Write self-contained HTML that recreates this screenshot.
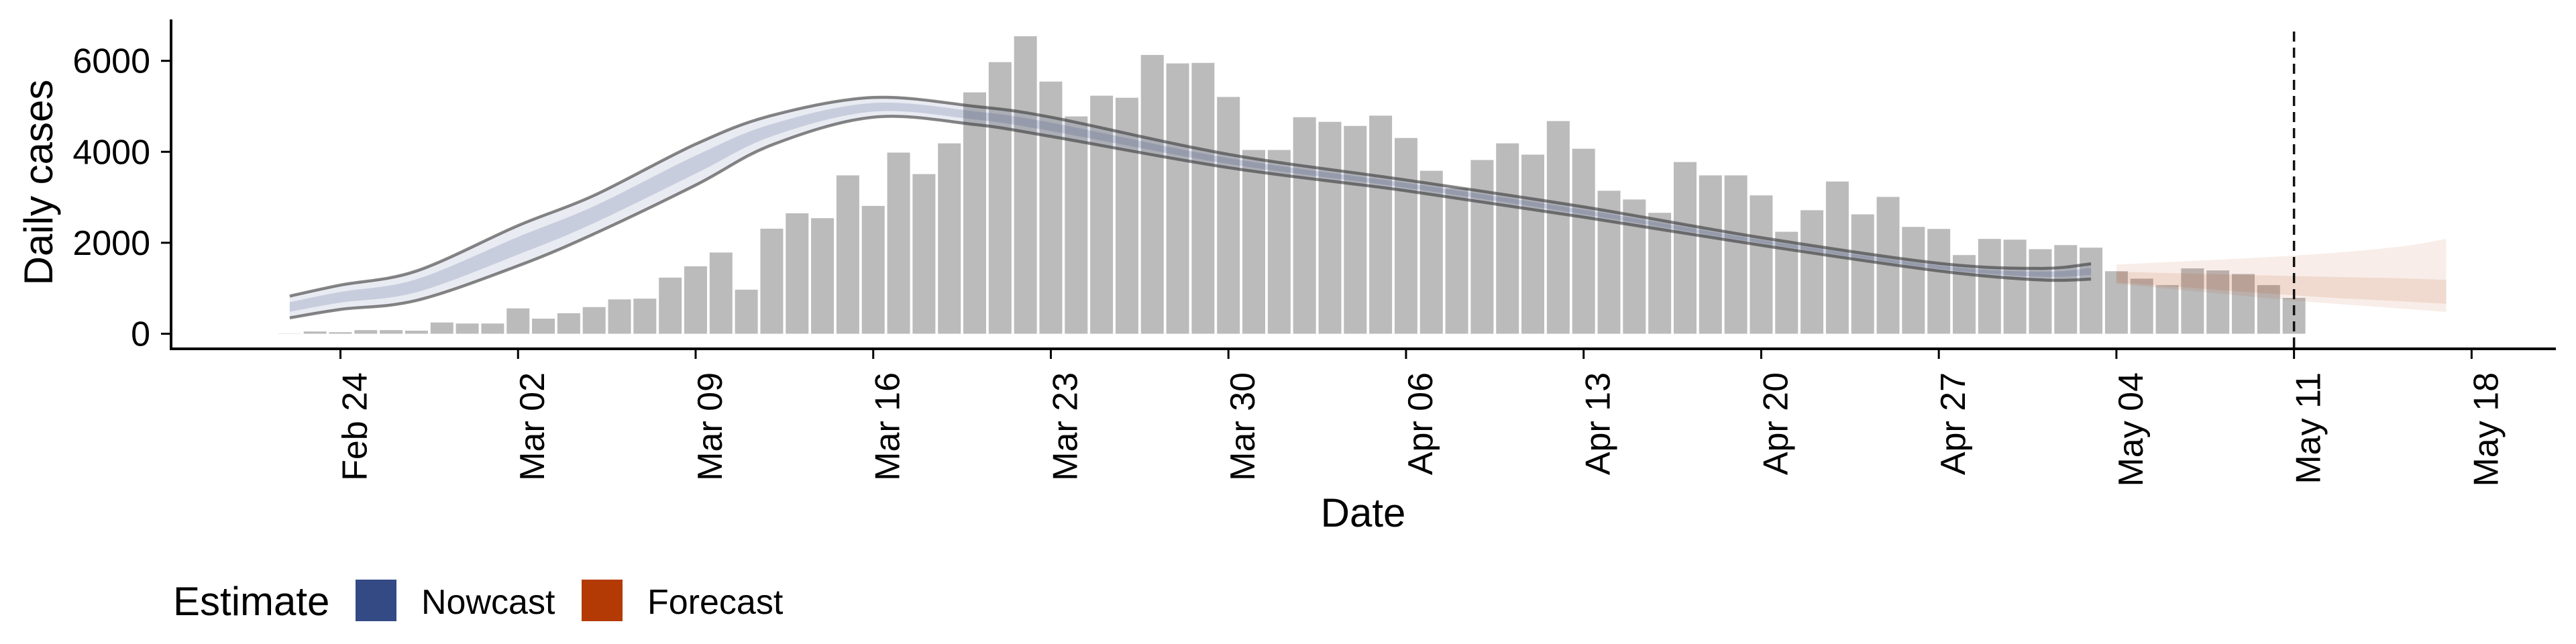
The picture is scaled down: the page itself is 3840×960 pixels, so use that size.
<!DOCTYPE html>
<html><head><meta charset="utf-8"><style>
html,body{margin:0;padding:0;background:#fff;}
svg{display:block;font-family:"Liberation Sans",sans-serif;}
</style></head><body>
<svg id="chart" width="3840" height="960" viewBox="0 0 3840 960" xmlns="http://www.w3.org/2000/svg">
<g id="bands"></g>
<g id="bars"></g>
<g id="overlay"></g>
<g id="axes"></g>
<text x="0" y="0" font-size="60" text-anchor="middle" transform="translate(78,272) rotate(-90)">Daily cases</text>
<text x="2032" y="785" font-size="60" text-anchor="middle">Date</text>
<g>
<text x="258" y="917" font-size="60">Estimate</text>
<rect x="530" y="864" width="61" height="62" fill="#344a85"/>
<text x="628" y="915" font-size="52">Nowcast</text>
<rect x="867" y="864" width="61" height="62" fill="#b33a04"/>
<text x="965" y="915" font-size="52">Forecast</text>
</g>
</svg>
<script>
// bar data: one value per day starting Feb 22 2020 (offset -2 from Feb 24)
const barStart = -2;
const cases = [5,50,34,79,79,68,248,225,225,558,332,451,586,755,772,1234,1482,1786,969,2310,2648,2541,3482,2811,
3983,3510,4186,5307,5972,6541,5544,4778,5234,5189,6130,5944,5955,5206,4040,4040,4761,4659,4569,4795,4304,3583,3200,3820,4186,3938,4676,4068,3144,2952,2659,3775,3482,3482,
3042,2242,2716,3347,2625,3009,2349,2304,1730,2085,2068,1859,1949,1893,1375,1211,1070,1437,1392,1313,1070,789];
// nowcast (days from Feb 24)
const nowDays = [-2,0,3,7,10,14,17,21,25,28,35,42,49,56,63,67,69];
const nowUpper = [828,1070,1380,2378,3042,4169,4800,5195,5000,4761,3944,3380,2789,2113,1549,1437,1538];
const nowLower = [349,535,732,1493,2197,3268,4150,4761,4600,4338,3651,3144,2563,1944,1380,1183,1200];
const nowInnerHi = [693,920,1199,2130,2806,3916,4610,5073,4890,4643,3862,3314,2726,2065,1501,1366,1443];
const nowInnerLo = [483,684,913,1740,2434,3520,4340,4883,4710,4457,3734,3210,2626,1991,1427,1254,1295];
// forecast
const fcDays = [70,77,81,83];
const fcUpper = [1521,1718,1904,2085];
const fcLower = [1099,732,563,479];
const fcInnerHi = [1363,1268,1220,1183];
const fcInnerLo = [1127,845,720,659];
const yTicks = [0,2000,4000,6000];
const xTickDays = [0,7,14,21,28,35,42,49,56,63,70,77,84];
const xTickLabels = ["Feb 24","Mar 02","Mar 09","Mar 16","Mar 23","Mar 30","Apr 06","Apr 13","Apr 20","Apr 27","May 04","May 11","May 18"];
const vlineDay = 77;

const NS="http://www.w3.org/2000/svg";
const X0=507.5, DX=37.82, Y0=497.5, KY=0.0678;
function xs(d){return X0+d*DX;}
function ys(v){return Y0-v*KY;}
function mk(tag,attrs,parent){const e=document.createElementNS(NS,tag);for(const k in attrs)e.setAttribute(k,attrs[k]);parent.appendChild(e);return e;}
function smooth(pts){
  let d="M"+pts[0][0]+","+pts[0][1];
  for(let i=0;i<pts.length-1;i++){
    const p0=pts[Math.max(0,i-1)],p1=pts[i],p2=pts[i+1],p3=pts[Math.min(pts.length-1,i+2)];
    const c1x=p1[0]+(p2[0]-p0[0])/6,c1y=p1[1]+(p2[1]-p0[1])/6;
    const c2x=p2[0]-(p3[0]-p1[0])/6,c2y=p2[1]-(p3[1]-p1[1])/6;
    d+=" C"+c1x+","+c1y+" "+c2x+","+c2y+" "+p2[0]+","+p2[1];
  }
  return d;
}
function pts(days,vals){return days.map((d,i)=>[xs(d),ys(vals[i])]);}
function band(days,hi,lo){
  const a=smooth(pts(days,hi));
  const b=smooth(pts(days,lo).reverse());
  return a+" L"+b.slice(1)+" Z";
}
const bars=document.getElementById('bars');
cases.forEach((v,i)=>{
  const d=barStart+i;
  const r=mk('rect',{x:xs(d)-17,y:ys(v),width:34,height:Y0-ys(v),fill:'#bbbbbb'},bars);
  
  
});
const ov=document.getElementById('overlay');
let p;
p=mk('path',{d:band(nowDays,nowUpper,nowLower),fill:'rgba(51,71,133,0.11)'},ov);

p=mk('path',{d:band(nowDays,nowInnerHi,nowInnerLo),fill:'rgba(51,71,133,0.18)'},ov);

p=mk('path',{d:smooth(pts(nowDays,nowUpper)),fill:'none',stroke:'rgba(60,60,60,0.62)','stroke-width':4.5},ov);

p=mk('path',{d:smooth(pts(nowDays,nowLower)),fill:'none',stroke:'rgba(60,60,60,0.62)','stroke-width':4.5},ov);

p=mk('path',{d:band(fcDays,fcUpper,fcLower),fill:'rgba(179,58,4,0.09)'},ov);

p=mk('path',{d:band(fcDays,fcInnerHi,fcInnerLo),fill:'rgba(179,58,4,0.11)'},ov);

p=mk('line',{x1:xs(vlineDay),x2:xs(vlineDay),y1:47,y2:520,stroke:'#111','stroke-width':3.5,'stroke-dasharray':'15 9'},ov);


const ax=document.getElementById('axes');
p=mk('line',{x1:255,x2:255,y1:29,y2:522,stroke:'#000','stroke-width':4},ax);

p=mk('line',{x1:253,x2:3810,y1:520,y2:520,stroke:'#000','stroke-width':4},ax);

yTicks.forEach(v=>{
  const t=mk('line',{x1:240,x2:255,y1:ys(v),y2:ys(v),stroke:'#000','stroke-width':3},ax);
  
  const l=mk('text',{x:224,y:ys(v)+18,'font-size':52,'text-anchor':'end'},ax);
  l.textContent=String(v);
  
});
xTickDays.forEach((d,i)=>{
  const x=xs(d);
  const t=mk('line',{x1:x,x2:x,y1:520,y2:535,stroke:'#000','stroke-width':3},ax);
  
  const l=mk('text',{x:0,y:0,'font-size':52,'text-anchor':'end',transform:'translate('+(x+39)+',555) rotate(-90)'},ax);
  l.textContent=xTickLabels[i];
  
});
</script>
</body></html>
